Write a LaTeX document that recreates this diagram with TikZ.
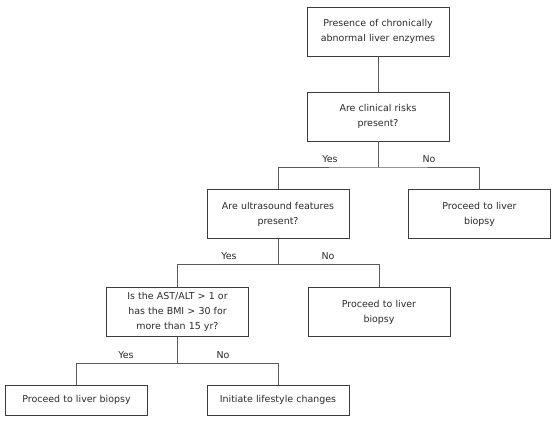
\documentclass[tikz,border=0pt]{standalone}
\usepackage{fontspec}
\setmainfont{DejaVu Sans}
\usepackage{tikz}

\definecolor{boxgray}{HTML}{3C3C3C}
\definecolor{linegray}{HTML}{5A5A5A}
\definecolor{textgray}{HTML}{2A2A2A}
\tikzset{box/.style={draw=boxgray, line width=0.9bp, text=textgray, minimum width=142bp, text width=140bp, align=center, inner sep=0pt, font=\fontsize{9.5}{15}\selectfont},
  tall/.style={box, minimum height=49bp}, flat/.style={box, minimum height=30bp},
  lbl/.style={text=textgray, font=\fontsize{9.5}{11}\selectfont},
  link/.style={draw=linegray, line width=0.9bp}}

\begin{document}
\begin{tikzpicture}[x=1bp,y=-1bp]
\useasboundingbox (0,0) rectangle (557,421);
          \draw (378,31.5) node[tall](pres){Presence of chronically\\abnormal liver enzymes} (378,116.5) node[tall](risk){Are clinical risks\\present?};
          \draw (278,214) node[tall](sono){Are ultrasound features\\present?} (479.5,214) node[tall](bxA){Proceed to liver\\biopsy};
          \draw (177.5,312) node[tall](astalt){Is the AST/ALT > 1 or\\has the BMI > 30 for\\more than 15 yr?} (379,312) node[tall](bxB){Proceed to liver\\biopsy};
          \draw (76.5,400) node[flat](bxC){Proceed to liver biopsy} (278,400) node[flat](life){Initiate lifestyle changes};
          \draw (330,159) node[lbl](y1){Yes} (429,159) node[lbl](n1){No} (229,256) node[lbl](y2){Yes} (328,256) node[lbl](n2){No} (126,355) node[lbl](y3){Yes} (223,355) node[lbl](n3){No};
          \coordinate (j1) at (378,167); \coordinate (j2) at (278,264); \coordinate (j3) at (177.5,363);
          \draw[link] (pres) -- (risk); \draw[link] (risk) -- (j1); \draw[link] (sono.north) |- (j1) -| (bxA.north);
          \draw[link] (sono) -- (j2); \draw[link] (astalt.north) |- (j2) -| (bxB.north);
          \draw[link] (astalt) -- (j3); \draw[link] (bxC.north) |- (j3) -| (life.north);
        \end{tikzpicture}
\end{document}
